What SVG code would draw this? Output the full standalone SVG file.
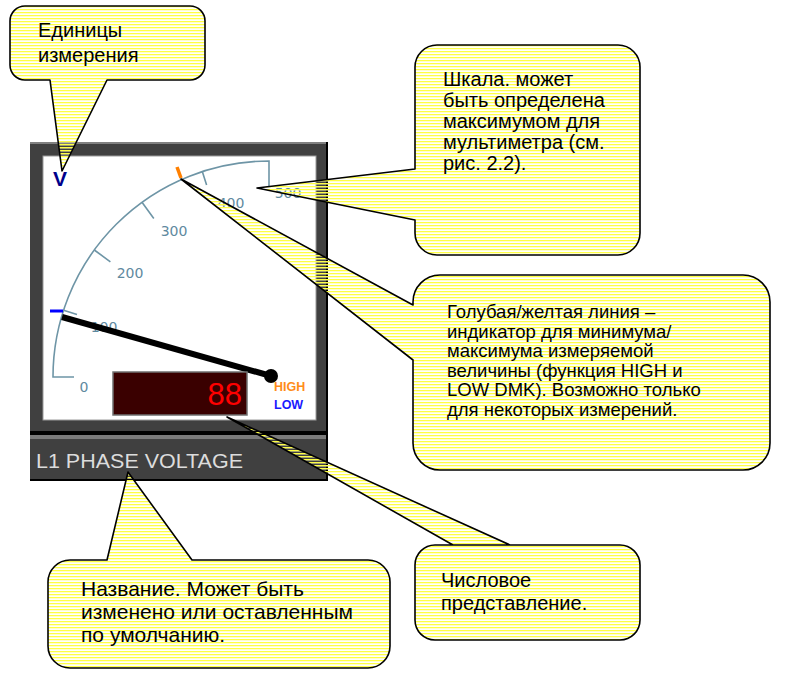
<svg xmlns="http://www.w3.org/2000/svg" width="789" height="673" viewBox="0 0 789 673">
<defs>
<pattern id="stripes" patternUnits="userSpaceOnUse" width="8" height="3">
<rect x="0" y="0" width="8" height="1" fill="#ffff44"/>
<rect x="0" y="1" width="8" height="1" fill="#ffff99" fill-opacity="0.5"/>
</pattern>
<style>
.call{fill:url(#stripes);stroke:#000;stroke-width:1.6;stroke-linejoin:round}
.ct{font-family:"Liberation Sans",Arial,sans-serif;font-size:20px;fill:#000}
.c3{font-family:"Liberation Sans",Arial,sans-serif;font-size:18.5px;fill:#000}
.c5{font-family:"Liberation Sans",Arial,sans-serif;font-size:21px;fill:#000}
.sc{fill:none;stroke:#6e95a6;stroke-width:1.6}
.sl{font-family:"DejaVu Sans",sans-serif;font-size:14px;fill:#5f8aa0}
</style>
</defs>
<rect width="789" height="673" fill="#fff"/>

<g id="meter">
<rect x="30" y="142" width="298" height="339" fill="#404040"/>
<rect x="30" y="142" width="298" height="2" fill="#808080"/>
<rect x="326" y="142" width="2" height="339" fill="#000"/>
<rect x="30" y="479" width="298" height="2" fill="#000"/>
<rect x="43" y="156" width="273" height="264" fill="#fff" stroke="#9a9a9a" stroke-width="1"/>
<rect x="30" y="431" width="296" height="4" fill="#000"/>
<rect x="30" y="435" width="296" height="4" fill="#7a7a7a"/>
<text x="36" y="468" font-family="'Liberation Sans Narrow','Liberation Sans',sans-serif" font-size="20" fill="#dcdcdc" textLength="207" lengthAdjust="spacingAndGlyphs">L1 PHASE VOLTAGE</text>
<path class="sc" d="M74,377 H53 A216,216 0 0 1 269,161 V187"/>
<path class="sc" d="M63.6,310.3 L77,314.6 M94.3,250 L110.4,261.8 M142,202.3 L153.8,218.5 M202.3,171.6 L206.6,185"/>
<text class="sl" x="84" y="392" text-anchor="middle">0</text>
<text class="sl" x="104" y="332" text-anchor="middle">100</text>
<text class="sl" x="130" y="278" text-anchor="middle">200</text>
<text class="sl" x="174" y="236" text-anchor="middle">300</text>
<text class="sl" x="231" y="208" text-anchor="middle">400</text>
<text class="sl" x="288" y="198" text-anchor="middle">500</text>
<path d="M50,311 H63" stroke="#0000ff" stroke-width="3"/>
<path d="M177,167 L181,178" stroke="#ff8000" stroke-width="3.5"/>
<line x1="62" y1="317" x2="271" y2="376" stroke="#000" stroke-width="6"/>
<circle cx="271" cy="376" r="7" fill="#000"/>
<text x="60" y="186" text-anchor="middle" font-family="'Liberation Sans',sans-serif" font-weight="bold" font-size="21" fill="#00008b">V</text>
<rect x="113" y="372" width="134" height="43" fill="#3a0000" stroke="#707070" stroke-width="1.5"/>
<text x="242" y="405" text-anchor="end" font-family="'Liberation Sans',sans-serif" font-size="31" fill="#ff0000">88</text>
<text x="274" y="391" font-family="'Liberation Sans',sans-serif" font-weight="bold" font-size="12.5" fill="#ff8c1a">HIGH</text>
<text x="274" y="409" font-family="'Liberation Sans',sans-serif" font-weight="bold" font-size="12.5" fill="#1a1aff">LOW</text>
</g>

<g id="callout-units">
<path class="call" d="M25,6 H190 A15,15 0 0 1 205,21 V65 A15,15 0 0 1 190,80 H107 L62,171 L50,80 H25 A15,15 0 0 1 10,65 V21 A15,15 0 0 1 25,6 Z"/>
<text class="ct" x="38" y="37">Единицы</text>
<text class="ct" x="38" y="62">измерения</text>
</g>

<g id="callout-scale">
<path class="call" d="M437,45 H618 A22,22 0 0 1 640,67 V233 A22,22 0 0 1 618,255 H437 A22,22 0 0 1 415,233 V220 L257,188 L415,169 V67 A22,22 0 0 1 437,45 Z"/>
<text class="ct" x="443" y="86">Шкала. может</text>
<text class="ct" x="443" y="107">быть определена</text>
<text class="ct" x="443" y="128">максимумом для</text>
<text class="ct" x="443" y="149">мультиметра (см.</text>
<text class="ct" x="443" y="170">рис. 2.2).</text>
</g>

<g id="callout-minmax">
<path class="call" d="M440,275 H743 A27,27 0 0 1 770,302 V443 A27,27 0 0 1 743,470 H440 A27,27 0 0 1 413,443 V360 L181,179 L413,305 V302 A27,27 0 0 1 440,275 Z"/>
<text class="c3" x="447" y="318">Голубая/желтая линия –</text>
<text class="c3" x="447" y="337.5">индикатор для минимума/</text>
<text class="c3" x="447" y="357">максимума измеряемой</text>
<text class="c3" x="447" y="376.5">величины (функция HIGH и</text>
<text class="c3" x="447" y="396">LOW DMK). Возможно только</text>
<text class="c3" x="447" y="415.5">для некоторых измерений.</text>
</g>

<g id="callout-digital">
<path class="call" d="M435,545 H620 A20,20 0 0 1 640,565 V620 A20,20 0 0 1 620,640 H435 A20,20 0 0 1 415,620 V565 A20,20 0 0 1 435,545 H453 L227,417 L510,545 Z"/>
<text class="ct" x="441" y="587">Числовое</text>
<text class="ct" x="441" y="610">представление.</text>
</g>

<g id="callout-name">
<path class="call" d="M70,560 H107 L128,472 L192,560 H368 A22,22 0 0 1 390,582 V646 A22,22 0 0 1 368,668 H70 A22,22 0 0 1 48,646 V582 A22,22 0 0 1 70,560 Z"/>
<text class="c5" x="81" y="596">Название. Может быть</text>
<text class="c5" x="81" y="619">изменено или оставленным</text>
<text class="c5" x="81" y="642">по умолчанию.</text>
</g>

<g id="connectors"></g>
</svg>
